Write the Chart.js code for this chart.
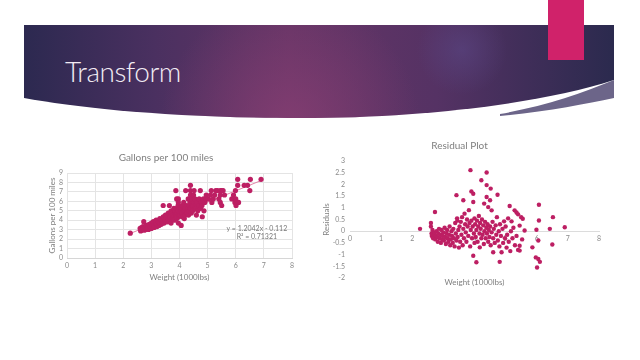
<!DOCTYPE html>
<html>
<head>
<meta charset="utf-8">
<script src="https://cdn.jsdelivr.net/npm/chart.js@4/dist/chart.umd.min.js"></script>
<style>
  html, body { margin: 0; padding: 0; background: #fff; }
  #slide { position: relative; width: 640px; height: 360px; overflow: hidden; background: #fff; }
  #banner { position: absolute; left: 0; top: 0; }
  #title { position: absolute; left: 65px; top: 54px; color: #f2ecf4; font: 300 28px Lato, "Open Sans", sans-serif; letter-spacing: -0.5px; }
  #left { position: absolute; left: 40px; top: 145px; }
  #right { position: absolute; left: 320px; top: 135px; }
</style>
</head>
<body>
<div id="slide">
  <svg id="banner" width="640" height="130">
    <defs>
      <linearGradient id="bg" x1="0" x2="1" y1="0" y2="0">
        <stop offset="0" stop-color="#2c2950"/>
        <stop offset="0.22" stop-color="#4a3060"/>
        <stop offset="0.45" stop-color="#663566"/>
        <stop offset="0.7" stop-color="#553264"/>
        <stop offset="1" stop-color="#2b2a4e"/>
      </linearGradient>
      <radialGradient id="glow" gradientUnits="userSpaceOnUse" cx="290" cy="125" r="130">
        <stop offset="0" stop-color="#8a3f74" stop-opacity="0.75"/>
        <stop offset="1" stop-color="#8a3f74" stop-opacity="0"/>
      </radialGradient>
      <radialGradient id="blue" gradientUnits="userSpaceOnUse" cx="462" cy="50" r="45">
        <stop offset="0" stop-color="#5a4684" stop-opacity="0.6"/>
        <stop offset="1" stop-color="#5a4684" stop-opacity="0"/>
      </radialGradient>
    </defs>
    <path d="M24 25 H614 V80 C 540 104 420 118 300 118 C 170 118 80 108 24 98 Z" fill="url(#bg)"/>
    <path d="M24 25 H614 V80 C 540 104 420 118 300 118 C 170 118 80 108 24 98 Z" fill="url(#glow)"/>
    <path d="M24 25 H614 V80 C 540 104 420 118 300 118 C 170 118 80 108 24 98 Z" fill="url(#blue)"/>
    <path d="M614 80 C 580 94 545 106 500 114 L 500 116 C 545 112 585 104 614 98 Z" fill="#6c6589"/>
    <rect x="548" y="0" width="36" height="60" fill="#d0226a"/>
  </svg>
  <div id="title">Transform</div>
  <canvas id="left" width="265" height="145"></canvas>
  <canvas id="right" width="300" height="160"></canvas>
</div>
<script>
// Gallons per 100 miles vs weight (1000 lbs)
const weights = [2.25,2.6,2.62,2.63,2.65,2.68,2.7,2.72,2.73,2.75,2.77,2.8,2.82,2.85,2.87,2.88,2.9,2.92,2.95,2.97,2.98,3.0,3.0,
  3.02,3.05,3.07,3.08,3.1,3.12,3.15,3.17,3.18,3.2,3.22,3.25,3.27,3.28,3.3,3.32,3.35,3.37,3.38,3.4,3.42,3.42,3.45,3.47,3.48,3.5,3.5,
  3.52,3.55,3.57,3.58,3.6,3.6,3.62,3.64,3.65,3.67,3.68,3.7,3.7,3.72,3.75,3.77,3.78,3.8,3.8,3.82,3.85,3.85,3.87,3.87,3.88,3.9,3.9,3.9,
  3.92,3.95,3.95,3.96,3.96,3.96,3.97,3.98,4.0,4.0,4.02,4.05,4.06,4.07,4.08,4.1,4.1,4.12,4.15,4.15,4.17,4.18,4.2,4.2,4.22,4.25,4.25,
  4.27,4.28,4.3,4.31,4.32,4.35,4.35,4.37,4.38,4.39,4.39,4.39,4.4,4.42,4.44,4.45,4.47,4.48,4.5,4.5,4.52,4.55,4.55,4.58,4.58,4.6,4.62,
  4.65,4.68,4.7,4.74,4.75,4.78,4.8,4.81,4.85,4.87,4.9,4.95,4.95,5.03,5.1,5.13,5.15,5.2,5.25,5.29,5.35,5.4,5.45,5.45,5.5,5.45,5.5,
  5.55,5.6,5.86,5.92,5.97,5.99,6.0,6.01,6.05,6.07,6.07,6.1,6.3,6.42,6.5,6.52,6.9];
const gallons = [2.63,3.13,2.86,2.94,3.23,3.03,3.33,3.13,3.85,2.94,3.23,3.03,3.45,3.13,3.33,3.23,3.03,3.57,3.23,3.45,3.33,3.13,3.7,
  3.33,3.57,3.85,3.45,3.23,3.45,3.7,4.0,3.57,3.33,3.57,3.85,3.45,3.7,4.17,3.7,3.57,4.0,3.7,3.85,4.35,5.56,3.7,4.17,3.85,4.0,4.55,
  4.17,3.85,4.35,3.85,4.17,4.76,4.0,5.56,4.55,4.35,4.0,5.0,3.7,4.17,4.76,4.55,4.17,4.35,5.26,4.0,4.76,5.0,4.55,7.14,4.35,5.26,4.17,6.25,
  4.76,5.0,5.56,6.25,5.88,3.7,4.35,4.55,4.76,5.26,4.55,5.0,3.45,5.26,4.76,4.76,5.56,4.35,5.0,5.88,4.17,5.0,5.26,4.55,7.14,5.56,4.76,
  5.0,4.76,5.26,6.25,4.55,5.56,5.0,5.88,5.26,7.69,7.14,6.67,5.26,4.76,6.25,5.56,5.0,5.56,5.88,6.67,7.14,6.25,5.26,5.56,5.26,4.55,5.88,
  5.0,5.56,6.25,7.14,5.26,5.88,5.56,4.37,6.25,5.0,5.88,6.25,6.67,6.25,6.67,7.14,5.88,6.25,6.67,7.14,7.14,6.25,6.67,7.14,7.14,5.88,5.56,
  7.14,6.67,6.25,6.67,5.88,7.14,6.25,5.56,5.88,7.69,8.33,5.88,7.69,7.69,7.14,8.33,8.33];
const trendX = [2.25, 6.9];
const trendY = [2.60, 8.20];
const equationLines = ['y = 1.2042x - 0.112', 'R\u00b2 = 0.71321'];

// Residuals vs weight
const residWeights = [2.25,2.73,2.6,2.6,2.62,2.63,2.65,2.67,2.7,2.72,2.74,2.76,2.78,2.8,2.82,2.84,2.86,2.88,2.9,2.92,2.94,2.96,2.98,3.0,
  3.02,3.04,3.06,3.08,3.1,3.12,3.14,3.16,3.18,3.2,3.22,3.24,3.26,3.28,3.3,3.32,3.34,3.36,3.38,3.4,3.42,3.42,3.44,3.46,3.48,3.5,3.45,
  3.52,3.54,3.56,3.58,3.6,3.62,3.64,3.64,3.66,3.68,3.7,3.72,3.74,3.76,3.78,3.8,3.82,3.84,3.86,3.87,3.88,3.9,3.9,3.92,3.94,3.96,3.96,
  3.96,3.98,4.0,4.0,4.02,4.04,4.06,4.06,4.08,4.1,4.12,4.14,4.16,4.17,4.18,4.2,4.22,4.22,4.24,4.26,4.28,4.3,4.31,4.32,4.34,4.36,4.38,
  4.39,4.39,4.39,4.4,4.42,4.44,4.44,4.46,4.48,4.5,4.5,4.52,4.52,4.55,4.55,4.58,4.6,4.6,4.62,4.65,4.68,4.7,4.72,4.74,4.75,4.78,4.8,
  4.81,4.82,4.85,4.87,4.9,4.92,4.95,4.98,5.0,5.03,5.05,5.08,5.1,5.13,5.15,5.17,5.19,5.22,5.25,5.29,5.3,5.35,5.35,5.4,5.4,5.45,5.45,
  5.45,5.5,5.53,5.55,5.61,5.86,5.99,6.05,5.97,6.05,6.1,6.01,6.07,6.07,6.42,6.52,6.5,6.9];
const residuals = [0.1,0.82,0.35,0.2,-0.1,-0.2,0.05,-0.3,-0.15,-0.05,-0.35,-0.2,0.0,-0.25,-0.45,-0.1,0.1,-0.3,-0.15,-0.5,0.05,-0.35,-0.2,-0.05,
  -0.4,0.15,-0.25,-0.55,-0.1,0.05,-0.3,-0.45,-0.15,0.2,-0.6,-0.35,0.0,-0.2,-0.5,0.1,-0.3,-0.65,0.35,-0.1,1.54,-0.4,0.55,-0.25,0.05,-0.7,0.45,
  0.2,-0.45,0.4,-0.15,0.6,-0.6,1.32,0.1,-0.3,0.75,0.3,-0.05,-0.45,0.5,0.2,-0.2,0.9,0.35,-0.65,2.61,0.05,1.7,0.45,-0.3,0.2,1.6,1.25,
  -1.05,-0.1,0.55,-0.5,0.3,-0.25,-1.33,0.05,0.45,-0.45,0.2,0.65,-0.1,-0.69,0.35,0.1,2.18,-0.3,0.5,-0.15,0.25,-0.55,1.18,0.0,0.4,-0.3,0.15,
  2.51,1.97,1.46,-0.1,0.3,1.03,-0.45,0.05,-0.25,1.32,0.2,1.82,-0.6,0.89,-0.05,0.4,-0.9,-0.3,0.1,-0.5,0.25,-0.15,0.6,1.56,-0.4,0.0,-0.65,
  -1.31,0.3,-0.2,-0.9,0.1,-0.5,0.42,-0.3,0.2,-0.7,-0.15,0.55,-0.45,1.08,-0.85,0.0,0.42,-0.3,0.15,0.89,-0.6,0.8,-0.2,0.72,-0.8,0.24,-0.62,
  -0.83,0.6,-0.35,0.53,0.03,-0.69,0.06,-0.4,-1.12,-1.19,-1.31,-1.55,1.13,0.46,0.1,0.6,-0.57,0.17];

const pink = '#bd1f63';
const gray = '#8a8a8a';
const font = 'Lato, "Open Sans", sans-serif';
Chart.defaults.font.family = font;
Chart.defaults.color = gray;

const toPoints = (xs, ys) => xs.map((x, i) => ({ x: x, y: ys[i] }));

// equation label next to the trendline
const equationPlugin = {
  id: 'equation',
  afterDatasetsDraw(chart) {
    const { ctx, scales } = chart;
    ctx.save();
    ctx.font = '7px ' + font;
    ctx.fillStyle = '#777';
    ctx.textAlign = 'center';
    ctx.textBaseline = 'middle';
    const cx = scales.x.getPixelForValue(6.75);
    ctx.fillText(equationLines[0], cx, scales.y.getPixelForValue(3.1));
    ctx.fillText(equationLines[1], cx, scales.y.getPixelForValue(2.25));
    ctx.restore();
  }
};

new Chart(document.getElementById('left'), {
  type: 'scatter',
  data: {
    datasets: [{
      data: toPoints(weights, gallons),
      backgroundColor: pink,
      borderColor: pink,
      pointRadius: 2.6,
      borderWidth: 0
    }, {
      type: 'line',
      data: toPoints(trendX, trendY),
      borderColor: '#e383a8',
      borderWidth: 1,
      pointRadius: 0
    }]
  },
  options: {
    responsive: false,
    animation: false,
    devicePixelRatio: 1,
    layout: { padding: { left: 0, right: 13, top: 0, bottom: 0 } },
    plugins: {
      legend: { display: false },
      tooltip: { enabled: false },
      title: {
        display: true, text: 'Gallons per 100 miles', color: '#7f7f7f',
        font: { size: 10, weight: 'normal' }, padding: { top: 7, bottom: 9 }
      }
    },
    scales: {
      x: {
        type: 'linear', min: 0, max: 8,
        ticks: { stepSize: 1, autoSkip: false, font: { size: 7 }, padding: 4 },
        grid: { color: '#e4e4e4', drawTicks: false },
        border: { color: '#d6d6d6' },
        title: { display: true, text: 'Weight (1000lbs)', color: '#7f7f7f', font: { size: 8 }, padding: { top: 0, bottom: 8 } },
        afterFit: s => { s.height = 32; }
      },
      y: {
        min: 0, max: 9,
        ticks: { stepSize: 1, autoSkip: false, font: { size: 7 }, padding: 4 },
        grid: { color: '#e4e4e4', drawTicks: false },
        border: { display: false },
        title: { display: true, text: 'Gallons per 100 miles', color: '#7f7f7f', font: { size: 8 }, padding: { top: 8, bottom: 0 } },
        afterFit: s => { s.width = 27; }
      }
    }
  },
  plugins: [equationPlugin]
});

new Chart(document.getElementById('right'), {
  type: 'scatter',
  data: {
    datasets: [{
      data: toPoints(residWeights, residuals),
      backgroundColor: pink,
      borderColor: pink,
      pointRadius: 2.2,
      borderWidth: 0
    }]
  },
  options: {
    responsive: false,
    animation: false,
    devicePixelRatio: 1,
    layout: { padding: { left: 0, right: 21, top: 0, bottom: 17 } },
    plugins: {
      legend: { display: false },
      tooltip: { enabled: false },
      title: {
        display: true, text: 'Residual Plot', color: '#7f7f7f',
        font: { size: 10, weight: 'normal' }, padding: { top: 5, bottom: 9 }
      }
    },
    scales: {
      x: {
        type: 'linear', min: 0, max: 8, position: { y: 0 },
        ticks: { stepSize: 1, autoSkip: false, font: { size: 7 }, padding: 3 },
        grid: { display: false, drawTicks: false },
        border: { color: '#dcdcdc' },
        title: { display: true, text: 'Weight (1000lbs)', color: '#7f7f7f', font: { size: 8 }, padding: { top: 0, bottom: 0 } },
        afterFit: s => { s.height = 56; }
      },
      y: {
        min: -2, max: 3,
        ticks: { stepSize: 0.5, autoSkip: false, font: { size: 7 }, padding: 5, callback: v => String(v) },
        grid: { display: false, drawTicks: false },
        border: { display: false },
        title: { display: true, text: 'Residuals', color: '#7f7f7f', font: { size: 8 }, padding: { top: 2, bottom: 0 } },
        afterFit: s => { s.width = 30; }
      }
    }
  }
});
</script>
</body>
</html>
